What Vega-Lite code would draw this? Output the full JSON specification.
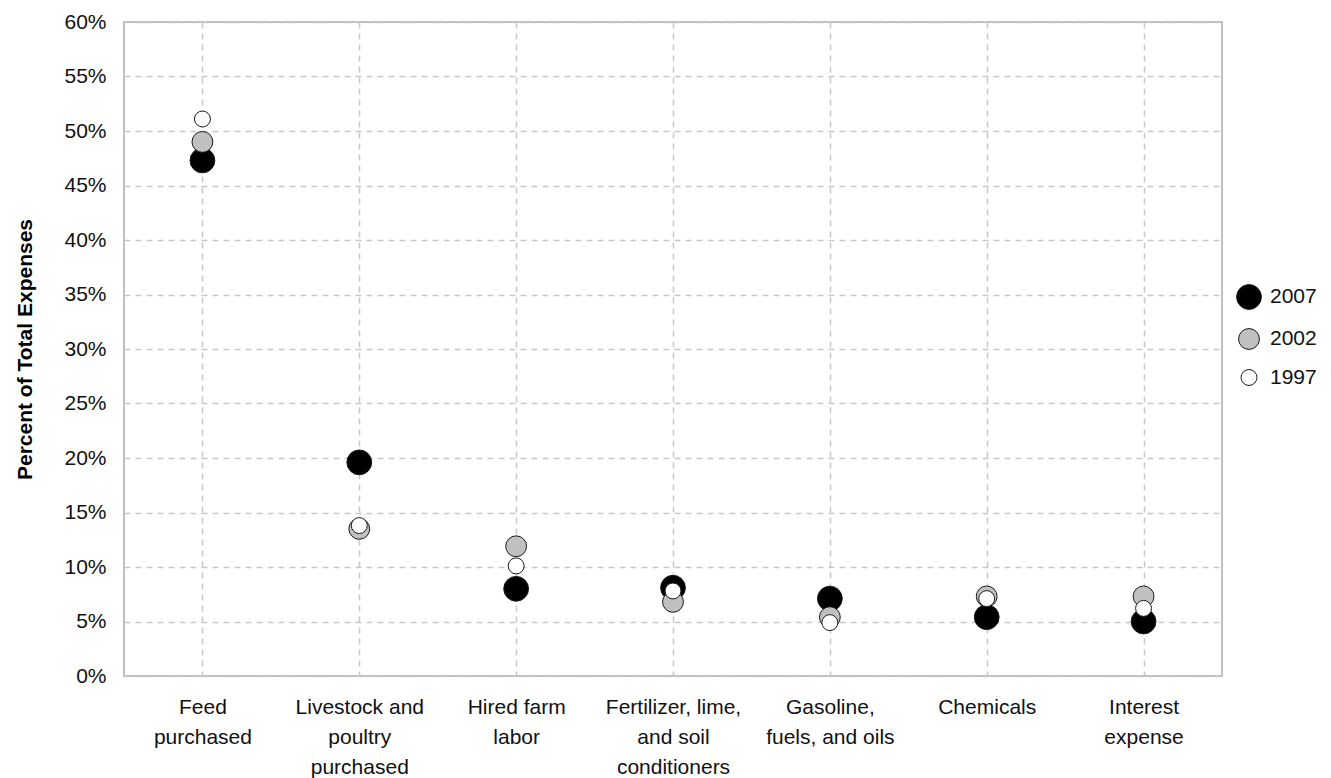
{
  "$schema": "https://vega.github.io/schema/vega-lite/v6.json",
  "width": 1098,
  "height": 654,
  "autosize": {"type": "none"},
  "padding": {"left": 124, "top": 22, "right": 109, "bottom": 102},
  "config": {
    "font": "Liberation Sans",
    "view": {"stroke": "#c0c0c0", "strokeWidth": 2},
    "axis": {"gridColor": "#c8c8c8", "gridDash": [6, 5], "gridWidth": 1.5, "labelColor": "#111", "titleColor": "#000"}
  },
  "data": {
    "values": [
      {"category": "Feed|purchased", "year": "2007", "share": 0.473},
      {"category": "Livestock and|poultry|purchased", "year": "2007", "share": 0.196},
      {"category": "Hired farm|labor", "year": "2007", "share": 0.080},
      {"category": "Fertilizer, lime,|and soil|conditioners", "year": "2007", "share": 0.081},
      {"category": "Gasoline,|fuels, and oils", "year": "2007", "share": 0.071},
      {"category": "Chemicals", "year": "2007", "share": 0.054},
      {"category": "Interest|expense", "year": "2007", "share": 0.050},
      {"category": "Feed|purchased", "year": "2002", "share": 0.490},
      {"category": "Livestock and|poultry|purchased", "year": "2002", "share": 0.135},
      {"category": "Hired farm|labor", "year": "2002", "share": 0.119},
      {"category": "Fertilizer, lime,|and soil|conditioners", "year": "2002", "share": 0.068},
      {"category": "Gasoline,|fuels, and oils", "year": "2002", "share": 0.054},
      {"category": "Chemicals", "year": "2002", "share": 0.073},
      {"category": "Interest|expense", "year": "2002", "share": 0.073},
      {"category": "Feed|purchased", "year": "1997", "share": 0.511},
      {"category": "Livestock and|poultry|purchased", "year": "1997", "share": 0.138},
      {"category": "Hired farm|labor", "year": "1997", "share": 0.101},
      {"category": "Fertilizer, lime,|and soil|conditioners", "year": "1997", "share": 0.078},
      {"category": "Gasoline,|fuels, and oils", "year": "1997", "share": 0.049},
      {"category": "Chemicals", "year": "1997", "share": 0.071},
      {"category": "Interest|expense", "year": "1997", "share": 0.062}
    ]
  },
  "mark": {"type": "point", "shape": "circle", "filled": true, "stroke": "#1a1a1a", "strokeWidth": 1, "opacity": 1},
  "encoding": {
    "x": {
      "field": "category",
      "type": "nominal",
      "sort": null,
      "scale": {"type": "point", "padding": 0.5},
      "axis": {
        "title": null,
        "labelAngle": 0,
        "labelExpr": "split(datum.label, '|')",
        "labelFontSize": 21,
        "labelLineHeight": 30,
        "labelPadding": 20,
        "labelLimit": 0,
        "labelBaseline": "top",
        "domain": false,
        "ticks": false,
        "grid": true
      }
    },
    "y": {
      "field": "share",
      "type": "quantitative",
      "scale": {"domain": [0, 0.6], "nice": false},
      "axis": {
        "title": "Percent of Total Expenses",
        "titleFontSize": 21,
        "titleFontWeight": "bold",
        "titlePadding": 28,
        "values": [0, 0.05, 0.1, 0.15, 0.2, 0.25, 0.3, 0.35, 0.4, 0.45, 0.5, 0.55, 0.6],
        "format": ".0%",
        "labelFontSize": 21,
        "labelPadding": 18,
        "domain": false,
        "ticks": false,
        "grid": true
      }
    },
    "fill": {
      "field": "year",
      "type": "ordinal",
      "scale": {"domain": ["2007", "2002", "1997"], "range": ["#000000", "#c0c0c0", "#ffffff"]},
      "legend": {
        "title": null,
        "orient": "none",
        "legendX": 1112,
        "legendY": 262,
        "labelFontSize": 21,
        "labelColor": "#111",
        "rowPadding": 14,
        "labelOffset": 8,
        "symbolStrokeColor": "#1a1a1a",
        "symbolStrokeWidth": 1
      }
    },
    "size": {
      "field": "year",
      "type": "ordinal",
      "scale": {"domain": ["2007", "2002", "1997"], "range": [615, 254, 78]}
    }
  }
}
